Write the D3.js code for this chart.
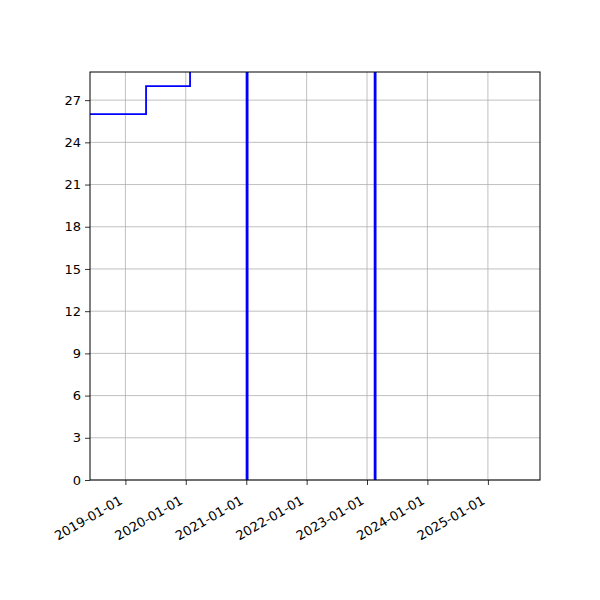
<!DOCTYPE html>
<html>
<head>
<meta charset="utf-8">
<script src="https://cdn.jsdelivr.net/npm/d3@7"></script>
<style>
  body { margin: 0; background: #fff; }
  text { font-family: "DejaVu Sans", sans-serif; }
</style>
</head>
<body>
<svg id="chart" width="600" height="600"></svg>
<script>
// step series, values change at these dates
var dates = ['2018-06-01', '2019-05-06', '2020-01-27', '2021-01-03', '2021-01-09', '2023-02-16', '2023-02-22', '2025-11-12'];
var values = [26, 28, 40, 0, 40, 0, 40, 40];
var yTicks = [0, 3, 6, 9, 12, 15, 18, 21, 24, 27];
var xTicks = ['2019-01-01', '2020-01-01', '2021-01-01', '2022-01-01', '2023-01-01', '2024-01-01', '2025-01-01'];
var xDomain = ['2018-06-01', '2025-11-12'];
var yDomain = [0, 29];

var parse = d3.timeParse('%Y-%m-%d');
var fmt = d3.timeFormat('%Y-%m-%d');
var data = dates.map((d, i) => ({ date: parse(d), value: values[i] }));

var margin = { top: 72, bottom: 120, right: 60, left: 90 };
var w = 600 - margin.left - margin.right;
var h = 600 - margin.top - margin.bottom;

var svg = d3.select('#chart');
var g = svg.append('g').attr('transform', `translate(${margin.left}, ${margin.top})`);

const x_scale = d3.scaleTime().domain(xDomain.map(parse)).range([0, w]);
const y_scale = d3.scaleLinear().domain(yDomain).range([h, 0]);

svg.append('defs').append('clipPath').attr('id', 'clip')
  .append('rect').attr('width', w).attr('height', h);

// grid
g.selectAll('.vgrid').data(xTicks.map(parse)).join('line').attr('class', 'vgrid')
  .attr('x1', d => x_scale(d)).attr('x2', d => x_scale(d))
  .attr('y1', 0).attr('y2', h)
  .style('stroke', '#b0b0b0').style('stroke-width', 0.8);
g.selectAll('.hgrid').data(yTicks).join('line').attr('class', 'hgrid')
  .attr('x1', 0).attr('x2', w)
  .attr('y1', d => y_scale(d)).attr('y2', d => y_scale(d))
  .style('stroke', '#b0b0b0').style('stroke-width', 0.8);

// line
var line = d3.line().x(d => x_scale(d.date)).y(d => y_scale(d.value)).curve(d3.curveStepAfter);
g.append('path').datum(data)
  .attr('clip-path', 'url(#clip)')
  .attr('d', line)
  .style('fill', 'none').style('stroke', 'blue').style('stroke-width', 1.8);

// axes
var xAxis = g.append('g').attr('transform', `translate(0, ${h})`)
  .call(d3.axisBottom(x_scale).tickValues(xTicks.map(parse)).tickFormat(fmt).tickSize(5).tickPadding(4));
xAxis.selectAll('text')
  .style('text-anchor', 'end')
  .attr('x', 0).attr('y', 0).attr('dy', 0)
  .attr('transform', 'translate(-2.5, 23) rotate(-30)');

var yAxis = g.append('g')
  .call(d3.axisLeft(y_scale).tickValues(yTicks).tickSize(5).tickPadding(4));

[xAxis, yAxis].forEach(a => {
  a.select('.domain').remove();
  a.selectAll('text').style('font-size', '13px').style('fill', '#000').style('font-family', '"DejaVu Sans", sans-serif');
  a.selectAll('line').style('stroke', '#000').style('stroke-width', 0.8);
});

// frame
g.append('rect').attr('width', w).attr('height', h)
  .style('fill', 'none').style('stroke', '#000').style('stroke-width', 1);
</script>
</body>
</html>
